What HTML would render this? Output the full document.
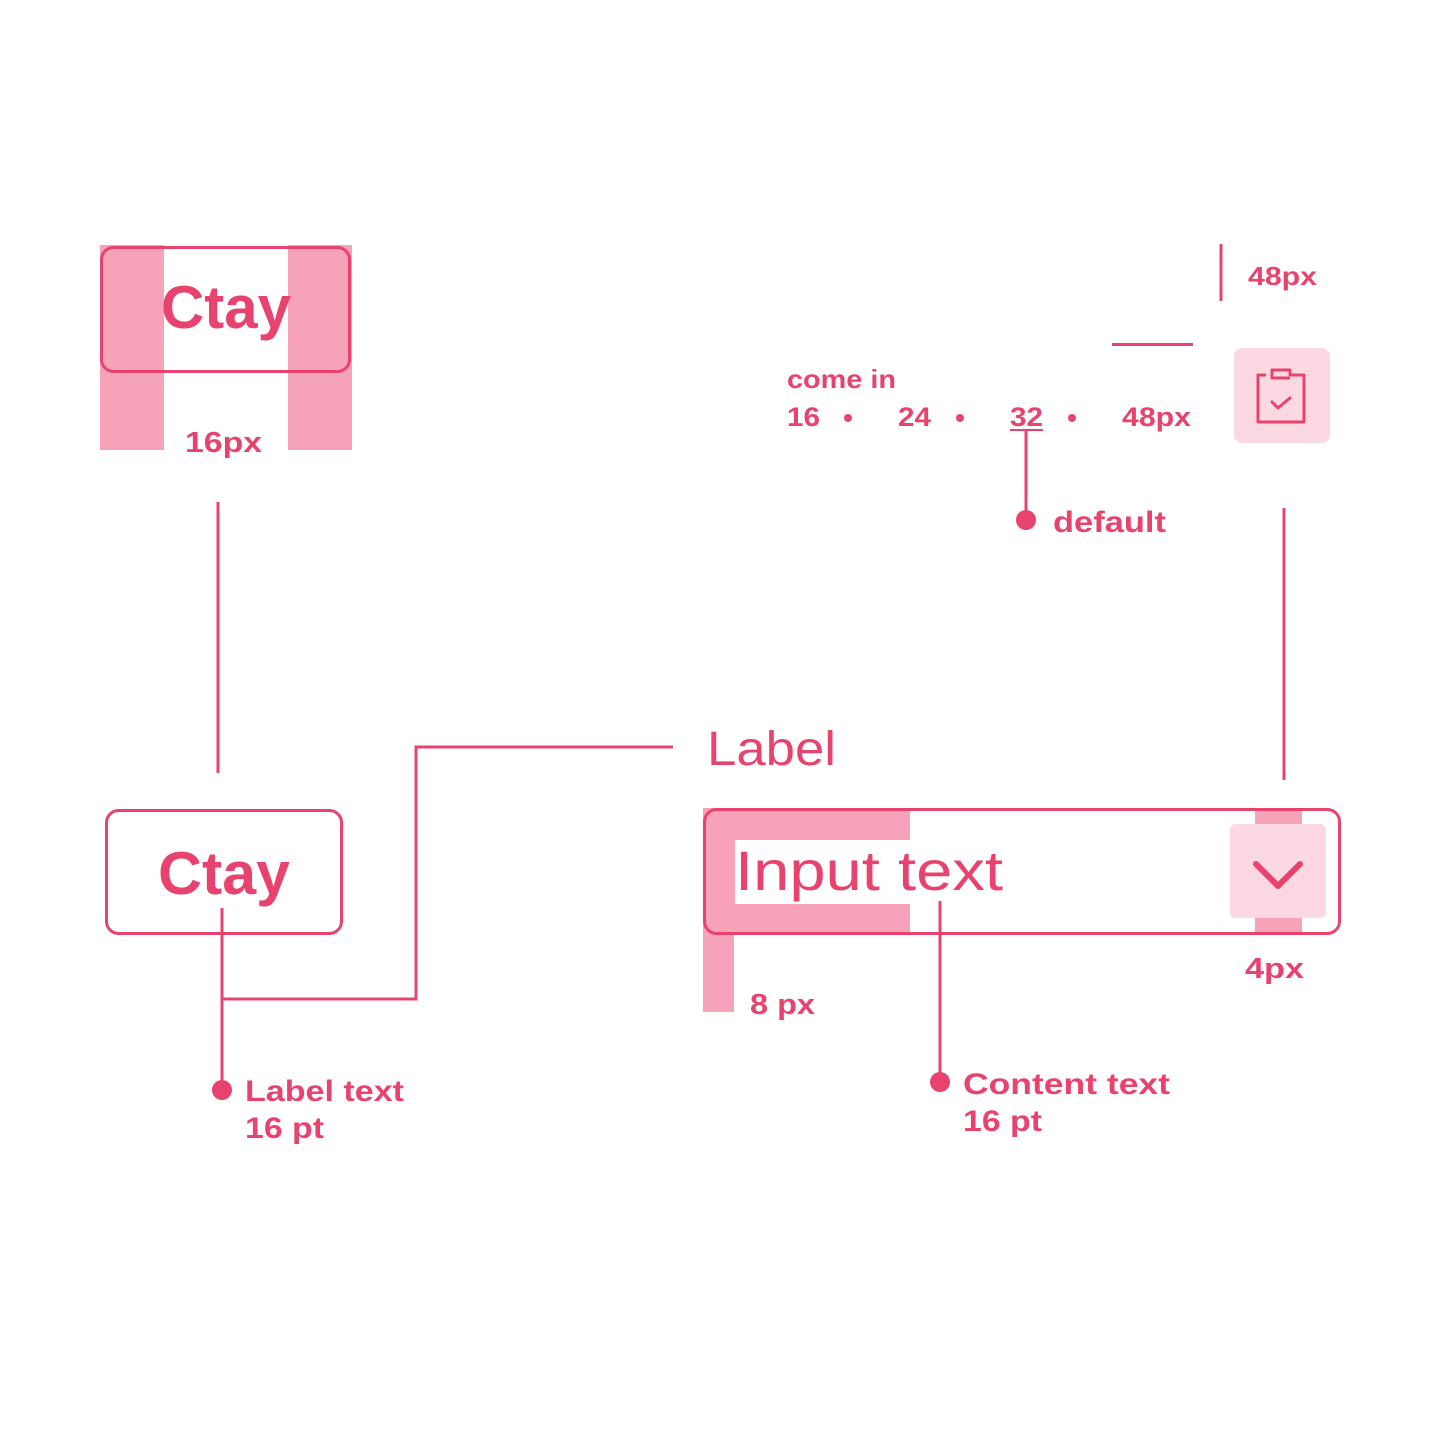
<!DOCTYPE html>
<html><head><meta charset="utf-8"><style>html,body{margin:0;padding:0;background:#fff}svg{display:block}</style></head>
<body>
<svg width="1442" height="1440" viewBox="0 0 1442 1440" xmlns="http://www.w3.org/2000/svg" font-family="Liberation Sans, sans-serif" fill="#e8436f">
<!-- top-left shading -->
<rect x="100" y="245" width="64" height="205" fill="#f6a2b8"/>
<rect x="288" y="245" width="64" height="205" fill="#f6a2b8"/>
<rect x="101.5" y="247.5" width="248" height="124" rx="12" fill="none" stroke="#e8436f" stroke-width="3"/>
<text x="226" y="328" font-size="60" font-weight="bold" text-anchor="middle" textLength="130" lengthAdjust="spacingAndGlyphs">Ctay</text>
<text x="185" y="452" font-size="29" font-weight="bold" textLength="77" lengthAdjust="spacingAndGlyphs">16px</text>
<line x1="218" y1="502" x2="218" y2="773" stroke="#e8436f" stroke-width="3"/>
<!-- bottom-left -->
<rect x="106.5" y="810.5" width="235" height="123" rx="12" fill="none" stroke="#e8436f" stroke-width="3"/>
<text x="224" y="894" font-size="60" font-weight="bold" text-anchor="middle" textLength="132" lengthAdjust="spacingAndGlyphs">Ctay</text>
<polyline points="222,908 222,1090" fill="none" stroke="#e8436f" stroke-width="3"/>
<polyline points="222,999 416,999 416,747 673,747" fill="none" stroke="#e8436f" stroke-width="3"/>
<circle cx="222" cy="1090" r="10"/>
<text x="245" y="1101" font-size="30" font-weight="bold" textLength="159" lengthAdjust="spacingAndGlyphs">Label text</text>
<text x="245" y="1138" font-size="30" font-weight="bold" textLength="79" lengthAdjust="spacingAndGlyphs">16 pt</text>
<text x="707" y="765" font-size="48" textLength="129" lengthAdjust="spacingAndGlyphs">Label</text>
<!-- input -->
<rect x="703" y="808" width="207" height="127" fill="#f6a2b8"/>
<rect x="703" y="935" width="31" height="77" fill="#f6a2b8"/>
<rect x="735" y="840" width="175" height="64" fill="#fff"/>
<rect x="1255" y="808" width="47" height="127" fill="#f6a2b8"/>
<rect x="1230" y="824" width="96" height="94" rx="6" fill="#fbd8e2"/>
<rect x="704.5" y="809.5" width="635" height="124" rx="12" fill="none" stroke="#e8436f" stroke-width="3"/>
<polyline points="1256,864 1278,886 1300,864" fill="none" stroke="#e8436f" stroke-width="6" stroke-linecap="round" stroke-linejoin="round"/>
<text x="735" y="890" font-size="56" textLength="268" lengthAdjust="spacingAndGlyphs">Input text</text>
<line x1="940" y1="901" x2="940" y2="1082" stroke="#e8436f" stroke-width="3"/>
<circle cx="940" cy="1082" r="10"/>
<text x="963" y="1094" font-size="30" font-weight="bold" textLength="207" lengthAdjust="spacingAndGlyphs">Content text</text>
<text x="963" y="1131" font-size="30" font-weight="bold" textLength="79" lengthAdjust="spacingAndGlyphs">16 pt</text>
<text x="750" y="1014" font-size="29" font-weight="bold" textLength="65" lengthAdjust="spacingAndGlyphs">8 px</text>
<text x="1245" y="978" font-size="29" font-weight="bold" textLength="59" lengthAdjust="spacingAndGlyphs">4px</text>
<line x1="1284" y1="508" x2="1284" y2="780" stroke="#e8436f" stroke-width="3"/>
<!-- top right -->
<line x1="1221" y1="244" x2="1221" y2="301" stroke="#e8436f" stroke-width="3"/>
<text x="1248" y="285" font-size="26" font-weight="bold" textLength="69" lengthAdjust="spacingAndGlyphs">48px</text>
<line x1="1112" y1="344.5" x2="1193" y2="344.5" stroke="#e8436f" stroke-width="3"/>
<rect x="1234" y="348" width="96" height="95" rx="8" fill="#fbd8e2"/>
<path d="M1266,375 H1258 V422 H1304 V375 H1290 V370 H1272 V378 H1290" fill="none" stroke="#e8436f" stroke-width="3" stroke-linejoin="round"/>
<polyline points="1272,402 1278,408 1290,398" fill="none" stroke="#e8436f" stroke-width="3" stroke-linecap="round" stroke-linejoin="round"/>
<text x="787" y="388" font-size="26" font-weight="bold" textLength="109" lengthAdjust="spacingAndGlyphs">come in</text>
<g font-size="27" font-weight="bold">
<text x="787" y="426" textLength="33" lengthAdjust="spacingAndGlyphs">16</text>
<text x="898" y="426" textLength="33" lengthAdjust="spacingAndGlyphs">24</text>
<text x="1010" y="426" textLength="33" lengthAdjust="spacingAndGlyphs">32</text>
<text x="1122" y="426" textLength="69" lengthAdjust="spacingAndGlyphs">48px</text>
</g>
<circle cx="848" cy="418" r="4"/><circle cx="960" cy="418" r="4"/><circle cx="1072" cy="418" r="4"/>
<line x1="1010" y1="430" x2="1043" y2="430" stroke="#e8436f" stroke-width="2"/>
<line x1="1026" y1="430" x2="1026" y2="520" stroke="#e8436f" stroke-width="3"/>
<circle cx="1026" cy="520" r="10"/>
<text x="1053" y="532" font-size="30" font-weight="bold" textLength="113" lengthAdjust="spacingAndGlyphs">default</text>
</svg>
</body></html>
